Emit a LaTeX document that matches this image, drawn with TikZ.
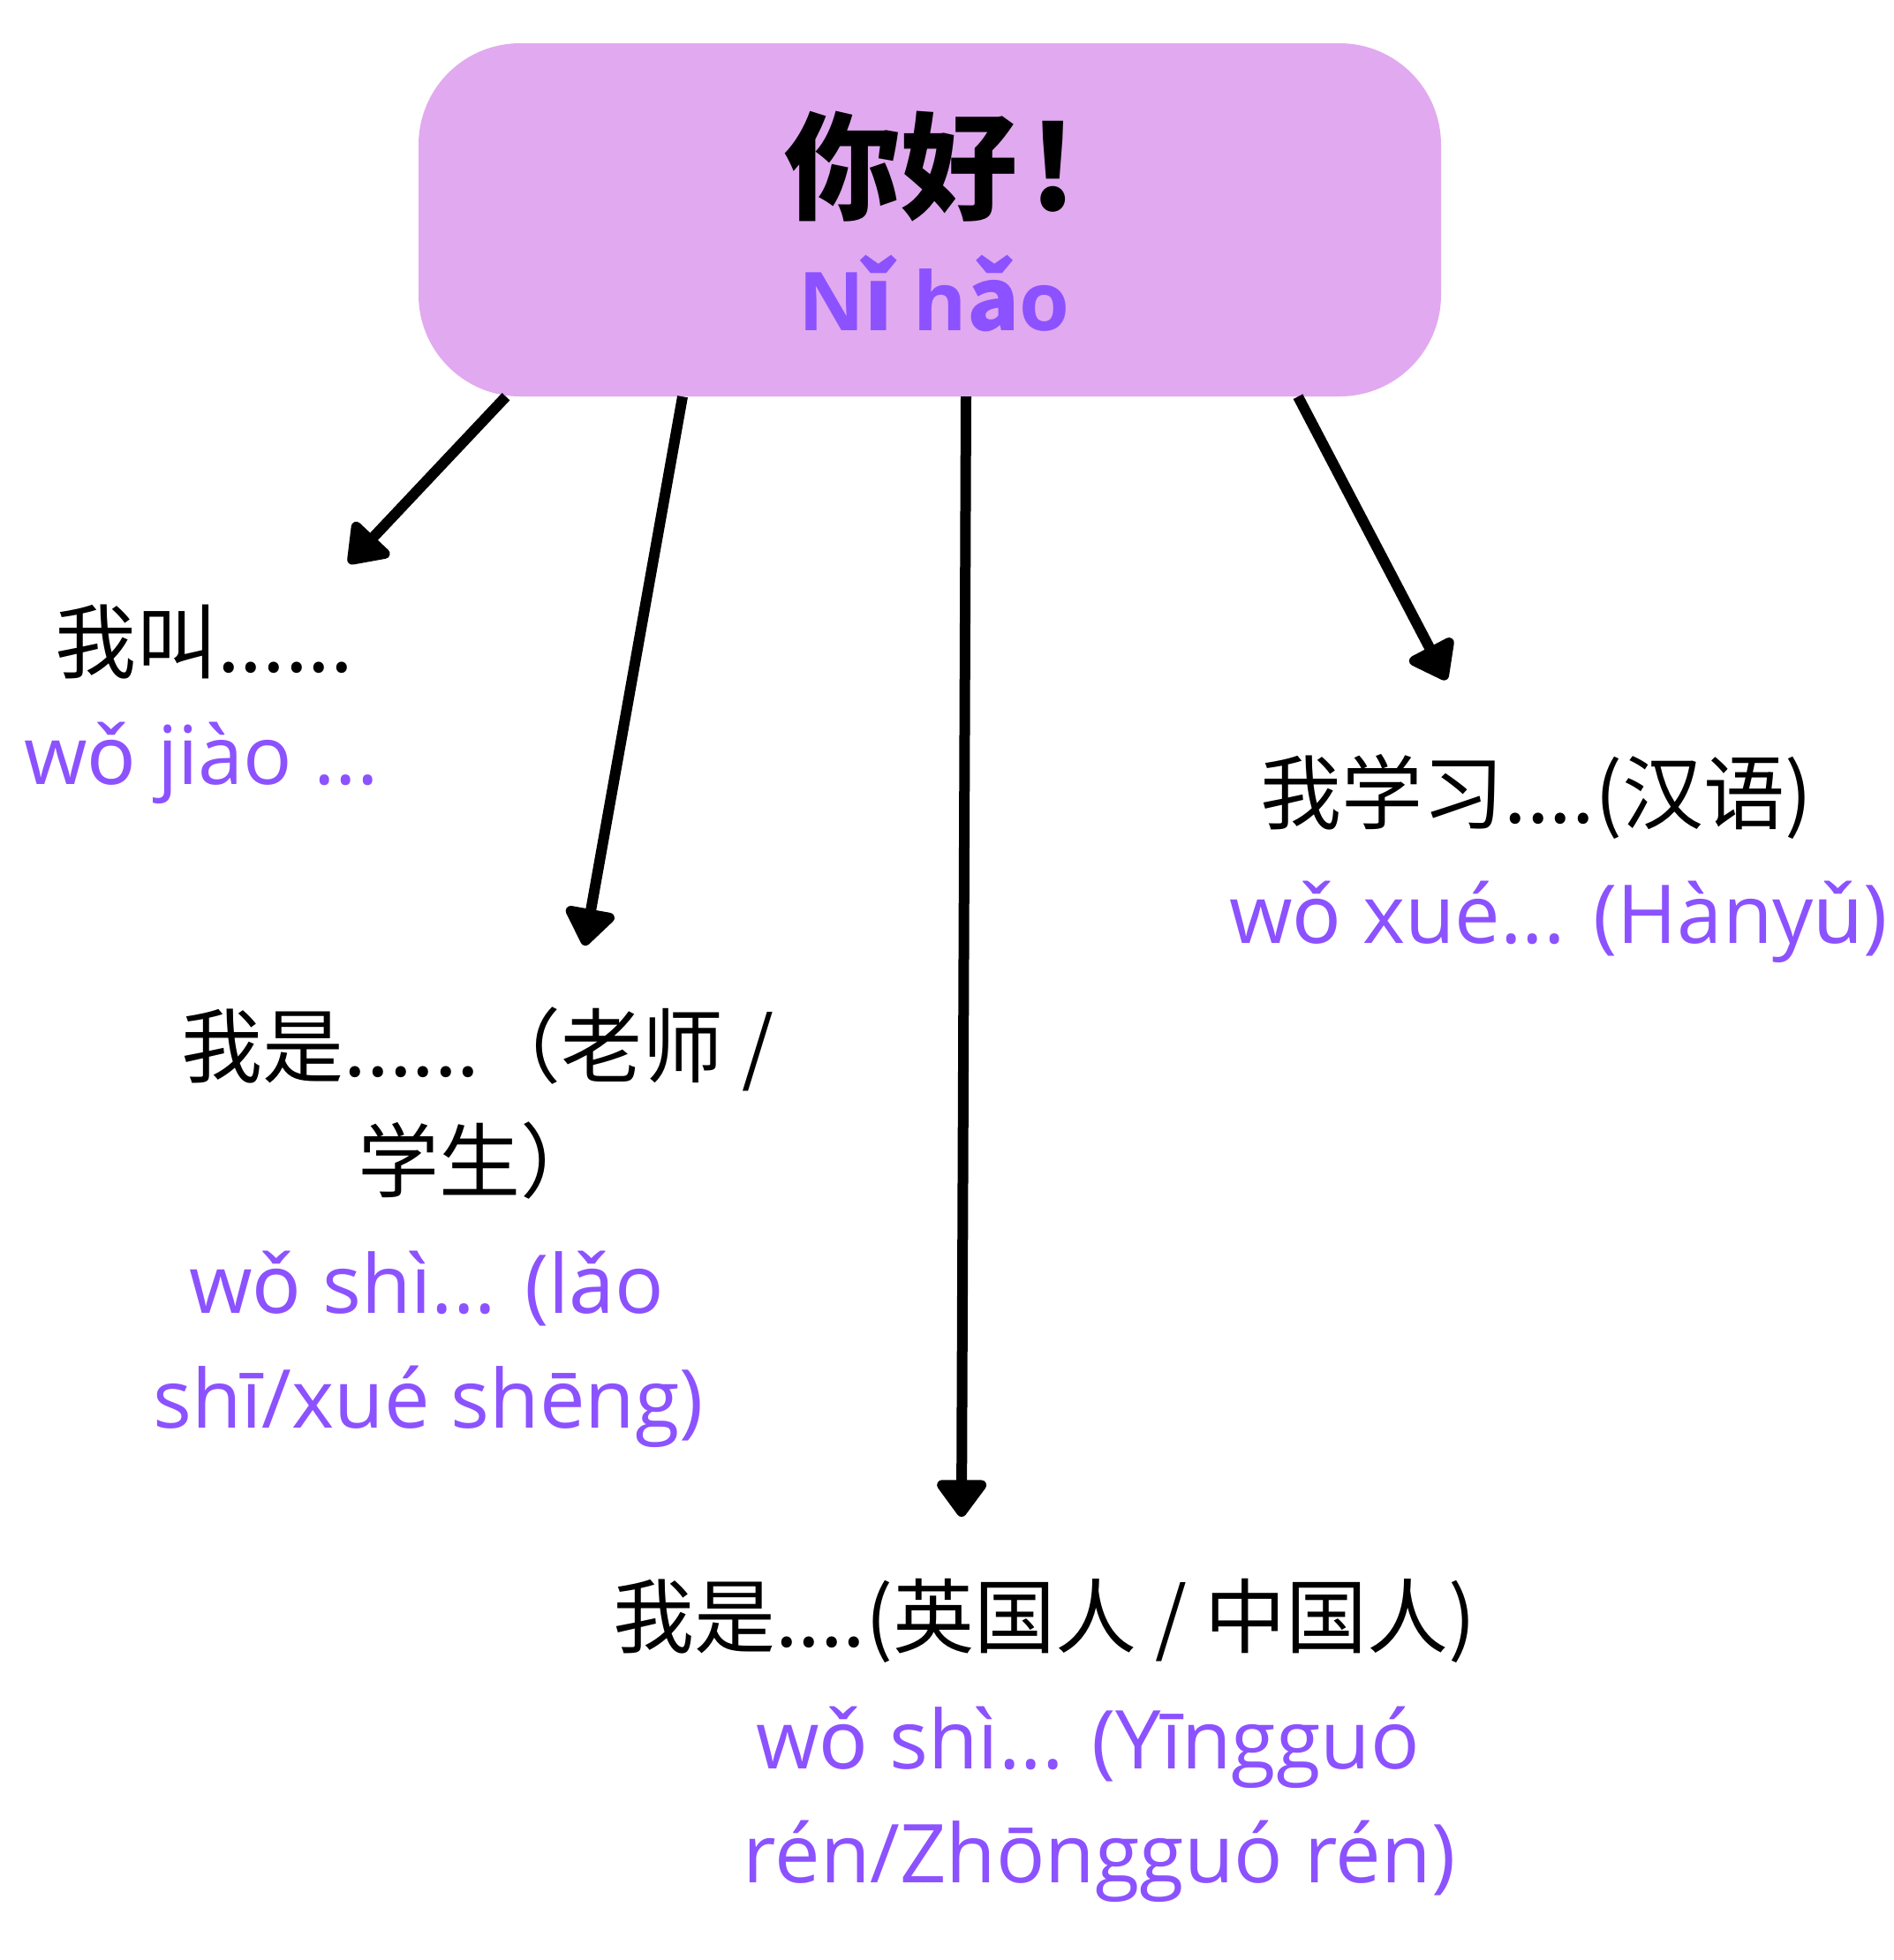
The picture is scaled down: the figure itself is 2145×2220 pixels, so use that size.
\documentclass[tikz,border=0pt]{standalone}
\usepackage{fontspec}
\setmainfont{Open Sans}
\newfontfamily\cjk{Noto Sans CJK SC}
\newfontfamily\nsf{Noto Sans}
\newcommand\nt[1]{{\nsf #1}}
\newcommand\ntb[1]{{\cjk\bfseries\fontsize{98}{129}\selectfont #1}}
\usetikzlibrary{arrows.meta}
\definecolor{boxfill}{HTML}{E1A9EF}
\definecolor{py}{HTML}{8C52FF}
\begin{document}
\begin{tikzpicture}[x=1pt,y=-1pt,
  cn/.style={anchor=base, inner sep=0pt, font=\cjk\fontsize{92}{129}\selectfont},
  pn/.style={anchor=base, inner sep=0pt, text=py, font=\fontsize{92}{129}\selectfont},
  arr/.style={line width=12pt, -{Triangle[length=46pt,width=64pt,round]}}]
\fill[white] (0,0) rectangle (2145,2220);
\useasboundingbox (0,0) rectangle (2145,2220);
% central box
\node[fill=boxfill, rounded corners=115pt, minimum width=1158pt, minimum height=400pt, inner sep=0pt] (hello) at (1053,249) {};
\node[anchor=base, inner sep=0pt, font=\cjk\bfseries\fontsize{132}{160}\selectfont] (hz) at (1054,238) {你好\kern14pt!};
\node[pn, font=\bfseries\fontsize{92}{129}\selectfont] (hp) at (1058,374) {N\ntb{ǐ} h\ntb{ǎ}o};
% label 1
\node[cn] (a1) at (231,761) {我叫......};
\node[pn] (a1p) at (228,888) {w\nt{ǒ} jiào ...};
% label 2
\node[cn] (b1) at (541,1219) {我是......（老师 /};
\node[cn] (b2) at (543,1349) {学生）};
\node[pn] (b1p) at (483,1487) {w\nt{ǒ} shì... (l\nt{ǎ}o};
\node[pn] (b2p) at (485,1617) {shī/xué shēng)};
% label 3
\node[cn] (c1) at (1183,1865) {我是....(英国人 / 中国人)};
\node[pn] (c1p) at (1232,2003) {w\nt{ǒ} shì... (Yīngguó};
\node[pn] (c2p) at (1245,2132) {rén/Zhōngguó rén)};
% label 4
\node[cn] (d1) at (1740,932) {我学习....(汉语)};
\node[pn] (d1p) at (1765,1068) {w\nt{ǒ} xué... (Hàny\nt{ǔ})};
% arrows
\coordinate (s1) at (573,0);
\coordinate (s2) at (773,0);
\coordinate (s3) at (1094,0);
\coordinate (s4) at (1470,0);
\coordinate (e1) at (395,638);
\coordinate (e2) at (662,1071);
\coordinate (e3) at (1089,1718);
\coordinate (e4) at (1638,770);
\draw[arr] (hello.south -| s1) -- (e1);
\draw[arr] (hello.south -| s2) -- (e2);
\draw[arr] (hello.south -| s3) -- (e3);
\draw[arr] (hello.south -| s4) -- (e4);
\end{tikzpicture}
\end{document}
